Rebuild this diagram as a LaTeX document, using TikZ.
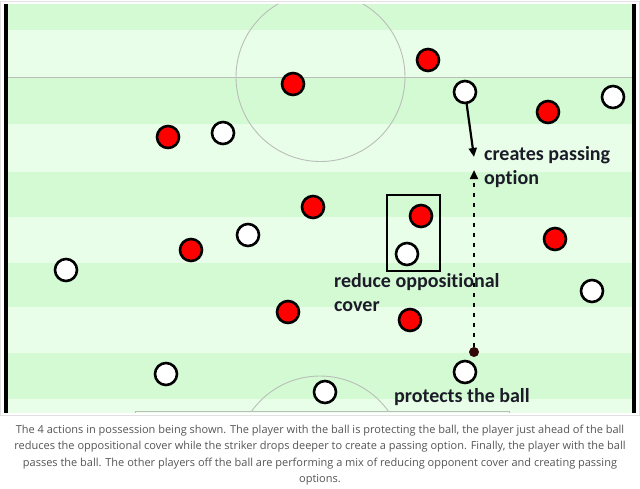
\documentclass[tikz,border=0pt]{standalone}
\usepackage{fontspec}
\usetikzlibrary{arrows.meta}
\newfontfamily\lblfont{Carlito}[Ligatures={NoCommon,NoContextual}]
\newfontfamily\capfont{Open Sans}
\definecolor{stripeA}{RGB}{212,250,212}
\definecolor{stripeB}{RGB}{232,254,232}
\definecolor{pitchline}{RGB}{185,190,185}
\definecolor{lbltext}{RGB}{28,28,40}
\definecolor{captext}{RGB}{85,85,85}
\definecolor{balldot}{RGB}{50,8,8}
\begin{document}
\begin{tikzpicture}[x=1pt,y=-1pt,
  redp/.style={circle,draw=black,line width=2.6pt,fill=red,minimum size=22pt,inner sep=0pt},
  whitep/.style={circle,draw=black,line width=2.6pt,fill=white,minimum size=22pt,inner sep=0pt},
  lbl/.style={font=\lblfont\bfseries\fontsize{20}{24}\selectfont,text=lbltext,anchor=west,align=left,inner sep=0pt},
  captionstyle/.style={font=\capfont\fontsize{11}{16.5}\selectfont,text=captext,align=center,inner sep=0pt},
  thinline/.style={draw=pitchline,line width=0.9pt},
  moveline/.style={line width=2.2pt,black}]
\useasboundingbox (0,0) rectangle (640,488);
\fill[white] (0,0) rectangle (640,488);
% image frame
\draw[draw={rgb,255:red,225;green,225;blue,225},line width=1pt] (0.5,1.5) rectangle (639.5,415);
% stripes
\fill[stripeB] (7,4) rectangle (632,413);
\foreach \a/\b in {4/30,77/124,172/217,263/307,353/399}{
  \fill[stripeA] (7,\a) rectangle (632,\b);
}
% pitch markings
\begin{scope}
\clip (7,4) rectangle (632,413);
\draw[thinline] (7,77) -- (632,77);
\draw[thinline] (320.5,77) circle[radius=84.5];
\draw[thinline] (135,413) -- (135,411) -- (509,411) -- (509,413);
\begin{scope}
\clip (7,4) rectangle (632,411);
\draw[thinline] (320,460) circle[radius=84];
\end{scope}
\end{scope}
% side lines
\fill[black] (4,4) rectangle (7.5,413);
\fill[black] (632,4) rectangle (635.5,413);
% highlight box
\draw[line width=2.4pt] (387,195) rectangle (440,271);
% players
\node[redp] (r1) at (293,84) {};
\node[redp] (r2) at (428,60) {};
\node[redp] (r3) at (548,112) {};
\node[redp] (r4) at (168,137) {};
\node[redp] (r5) at (313,207) {};
\node[redp] (r6) at (421,216) {};
\node[redp] (r7) at (191,250) {};
\node[redp] (r8) at (555,239) {};
\node[redp] (r9) at (288,312) {};
\node[redp] (r10) at (410,320) {};
\node[whitep] (w1) at (465,92) {};
\node[whitep] (w2) at (613,97) {};
\node[whitep] (w3) at (223,133) {};
\node[whitep] (w4) at (248,235) {};
\node[whitep] (w5) at (66,270) {};
\node[whitep] (w6) at (407,254) {};
\node[whitep] (w7) at (592,291) {};
\node[whitep] (w8) at (166,374) {};
\node[whitep] (w9) at (465,372) {};
\node[whitep] (w10) at (325,392) {};
% ball
\node[circle,fill=balldot,minimum size=10pt,inner sep=0pt] (ball) at (474,352) {};
% movement arrows
\coordinate (downtip) at (474,157);
\coordinate (uptip) at (474,170);
\draw[moveline,-{Triangle[width=8pt,length=9pt]}] (w1) -- (downtip);
\draw[moveline,dash pattern=on 4pt off 6pt,-{Triangle[width=8pt,length=9pt]}] (ball) -- (uptip);
% labels
\node[lbl] (lcreate) at (484,167) {creates passing\\option};
\node[lbl] (lreduce) at (334,293) {reduce oppositional\\cover};
\node[lbl] (lprotect) at (394,397) {protects the ball};
% caption
\node[captionstyle] (caption) at (320,455) {The 4 actions in possession being shown. The player with the ball is protecting the ball, the player just ahead of the ball\\reduces the oppositional cover while the striker drops deeper to create a passing option. Finally, the player with the ball\\passes the ball. The other players off the ball are performing a mix of reducing opponent cover and creating passing\\options.};
\end{tikzpicture}
\end{document}
